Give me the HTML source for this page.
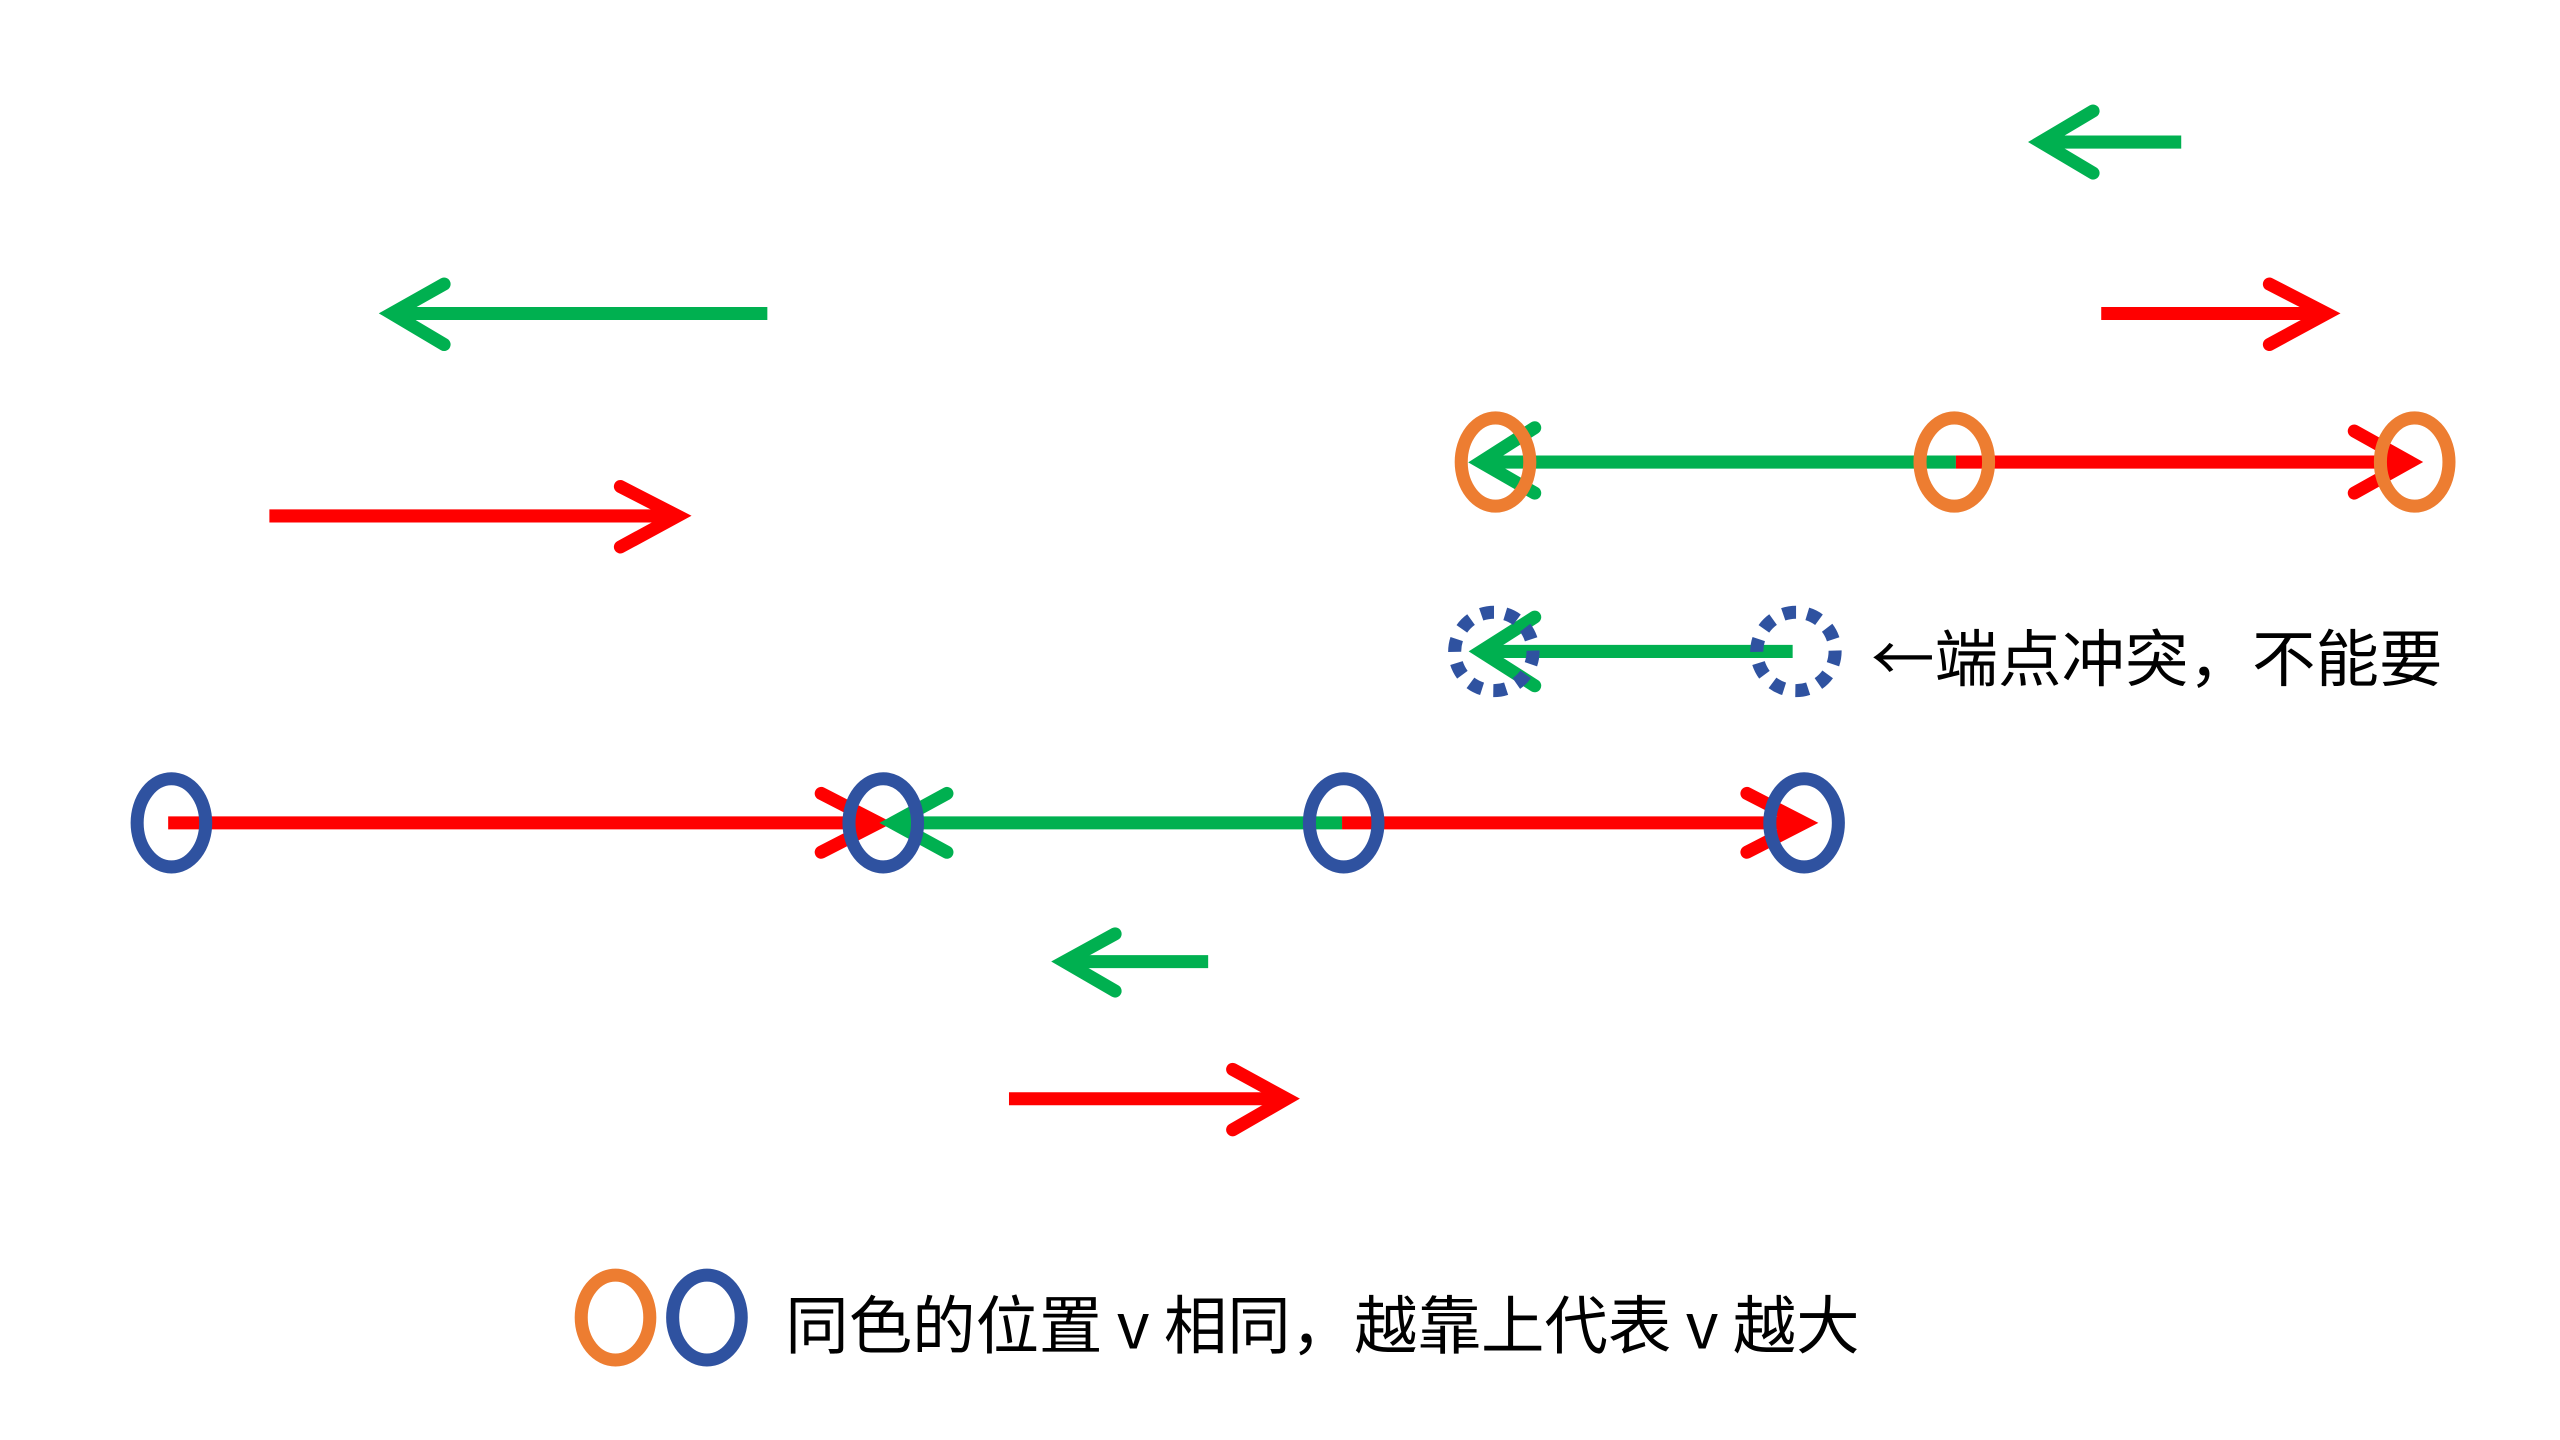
<!DOCTYPE html>
<html><head><meta charset="utf-8"><style>
html,body{margin:0;padding:0;background:#fff;width:2560px;height:1440px;overflow:hidden}
svg{display:block}
text{font-family:"Noto Sans CJK SC","Liberation Sans",sans-serif;fill:#000}
</style></head><body>
<svg width="2560" height="1440" viewBox="0 0 1568 882" xmlns="http://www.w3.org/2000/svg">
<g fill="none" stroke-width="8" stroke-linejoin="miter">
<g stroke="#00B050"><line x1="1336" y1="87" x2="1252" y2="87"/><polyline points="1282,68 1250,87 1282,106" stroke-linecap="round"/></g>
<g stroke="#FF0000"><line x1="1287" y1="192" x2="1424" y2="192"/><polyline points="1390,174 1425,192 1390,211" stroke-linecap="round"/></g>
<g stroke="#00B050"><line x1="470" y1="192" x2="244" y2="192"/><polyline points="272,174 240,192 272,211" stroke-linecap="round"/></g>
<g stroke="#FF0000"><line x1="165" y1="316" x2="413" y2="316"/><polyline points="380,298 415,316 380,335" stroke-linecap="round"/></g>
<g stroke="#00B050"><line x1="1198" y1="283" x2="910" y2="283"/><polyline points="940,262 907,283 940,302" stroke-linecap="round"/></g>
<g stroke="#FF0000"><line x1="1198" y1="283" x2="1474" y2="283"/><polyline points="1442,264 1476,283 1442,302" stroke-linecap="round"/></g>
<g stroke="#ED7D31"><ellipse cx="916" cy="283" rx="21" ry="27"/><ellipse cx="1197" cy="283" rx="21" ry="27"/><ellipse cx="1479" cy="283" rx="21" ry="27"/></g>
<g stroke="#00B050"><line x1="1098" y1="399" x2="910" y2="399"/><polyline points="940,378 907,399 940,420" stroke-linecap="round"/></g>
<g stroke="#2F52A0" stroke-dasharray="8 7"><circle cx="915" cy="399" r="24"/><circle cx="1100" cy="399" r="24"/></g>
<g stroke="#FF0000"><line x1="103" y1="504" x2="535" y2="504"/><polyline points="503,486 538,504 503,522" stroke-linecap="round"/></g>
<g stroke="#00B050"><line x1="822" y1="504" x2="550" y2="504"/><polyline points="580,486 547,504 580,522" stroke-linecap="round"/></g>
<g stroke="#FF0000"><line x1="822" y1="504" x2="1102" y2="504"/><polyline points="1070,486 1105,504 1070,522" stroke-linecap="round"/></g>
<g stroke="#2F52A0"><ellipse cx="105" cy="504" rx="21" ry="27"/><ellipse cx="541" cy="504" rx="21" ry="27"/><ellipse cx="823" cy="504" rx="21" ry="27"/><ellipse cx="1105" cy="504" rx="21" ry="27"/></g>
<g stroke="#00B050"><line x1="740" y1="589" x2="655" y2="589"/><polyline points="683,572 652,589 683,607" stroke-linecap="round"/></g>
<g stroke="#FF0000"><line x1="618" y1="673" x2="785" y2="673"/><polyline points="755,655 788,673 755,692" stroke-linecap="round"/></g>
<ellipse cx="377" cy="807" rx="21" ry="26" stroke="#ED7D31"/>
<ellipse cx="433" cy="807" rx="21" ry="26" stroke="#2F52A0"/>
</g>
<text x="1146" y="417" font-size="38" textLength="350" lengthAdjust="spacingAndGlyphs">←端点冲突，不能要</text>
<text x="481" y="826" font-size="39" textLength="658" lengthAdjust="spacingAndGlyphs">同色的位置 v 相同，越靠上代表 v 越大</text>
</svg>
</body></html>
